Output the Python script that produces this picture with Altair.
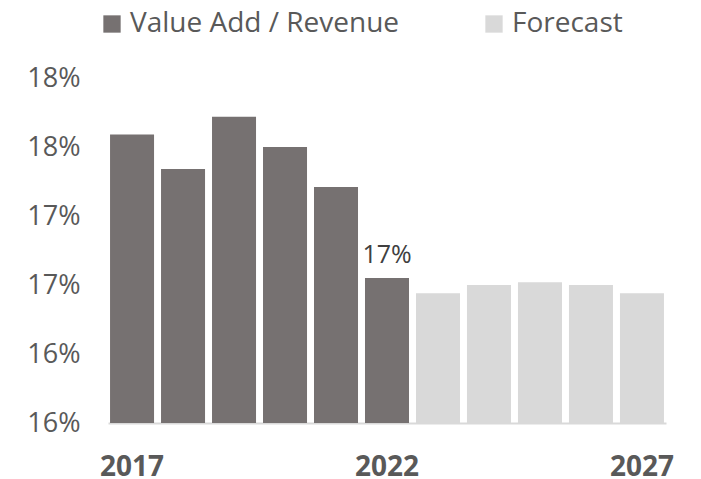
import altair as alt
import pandas as pd

years = ["2017", "2018", "2019", "2020", "2021", "2022", "2023", "2024", "2025", "2026", "2027"]
values = [17.59, 17.34, 17.72, 17.50, 17.21, 16.55, 16.44, 16.50, 16.52, 16.50, 16.44]
series = ["Value Add / Revenue"] * 6 + ["Forecast"] * 5
bar_labels = ["", "", "", "", "", "17%", "", "", "", "", ""]

series_order = ["Value Add / Revenue", "Forecast"]
series_colors = ["#767171", "#D9D9D9"]

y_tick_values = [15.5, 16.0, 16.5, 17.0, 17.5, 18.0]
y_tick_labels = ["16%", "16%", "17%", "17%", "18%", "18%"]
x_shown = ["2017", "2022", "2027"]

df = pd.DataFrame({"year": years, "value": values, "series": series, "label": bar_labels})

label_expr = ""
for v, t in zip(y_tick_values, y_tick_labels):
    label_expr += f"datum.value == {v} ? '{t}' : "
label_expr += "''"

FONT = "Open Sans"

x_enc = alt.X(
    "year:O",
    sort=years,
    scale=alt.Scale(paddingInner=0.137, paddingOuter=0.04),
    axis=alt.Axis(
        values=x_shown, title=None, labelAngle=0, ticks=False,
        domain=True, domainColor="#D9D9D9", domainWidth=2,
        labelFont=FONT, labelFontSize=28, labelFontWeight="bold",
        labelColor="#595959", labelPadding=30,
    ),
)

y_scale = alt.Scale(domain=[y_tick_values[0], y_tick_values[-1]], zero=False, clamp=True)

bars = alt.Chart(df).mark_bar().encode(
    x=x_enc,
    y=alt.Y(
        "value:Q",
        scale=y_scale,
        axis=alt.Axis(
            values=y_tick_values, labelExpr=label_expr, title=None,
            ticks=False, domain=False, grid=False,
            labelFont=FONT, labelFontSize=27, labelColor="#595959",
            labelPadding=28,
        ),
    ),
    y2=alt.datum(y_tick_values[0]),
    color=alt.Color(
        "series:N",
        scale=alt.Scale(domain=series_order, range=series_colors),
        legend=alt.Legend(
            title=None, orient="none", direction="horizontal",
            legendX=-10, legendY=-68,
            symbolType="square", symbolSize=300, symbolStrokeWidth=0,
            labelFont=FONT, labelFontSize=28, labelColor="#595959",
            labelOffset=4, labelLimit=0, columnPadding=80, padding=0,
        ),
    ),
)

text = alt.Chart(df).transform_filter("datum.label != ''").mark_text(
    baseline="bottom", dy=-10, font=FONT, fontSize=25, color="#404040"
).encode(
    x=alt.X("year:O", sort=years),
    y=alt.Y("value:Q", scale=y_scale),
    text="label:N",
)

chart = alt.layer(bars, text).properties(
    width=558, height=345,
    autosize=alt.AutoSizeParams(type="none"),
    padding={"left": 100, "top": 70, "right": 27, "bottom": 62},
).configure_view(stroke=None)

chart.save("out.html", embed_options={"renderer": "svg", "actions": False})
